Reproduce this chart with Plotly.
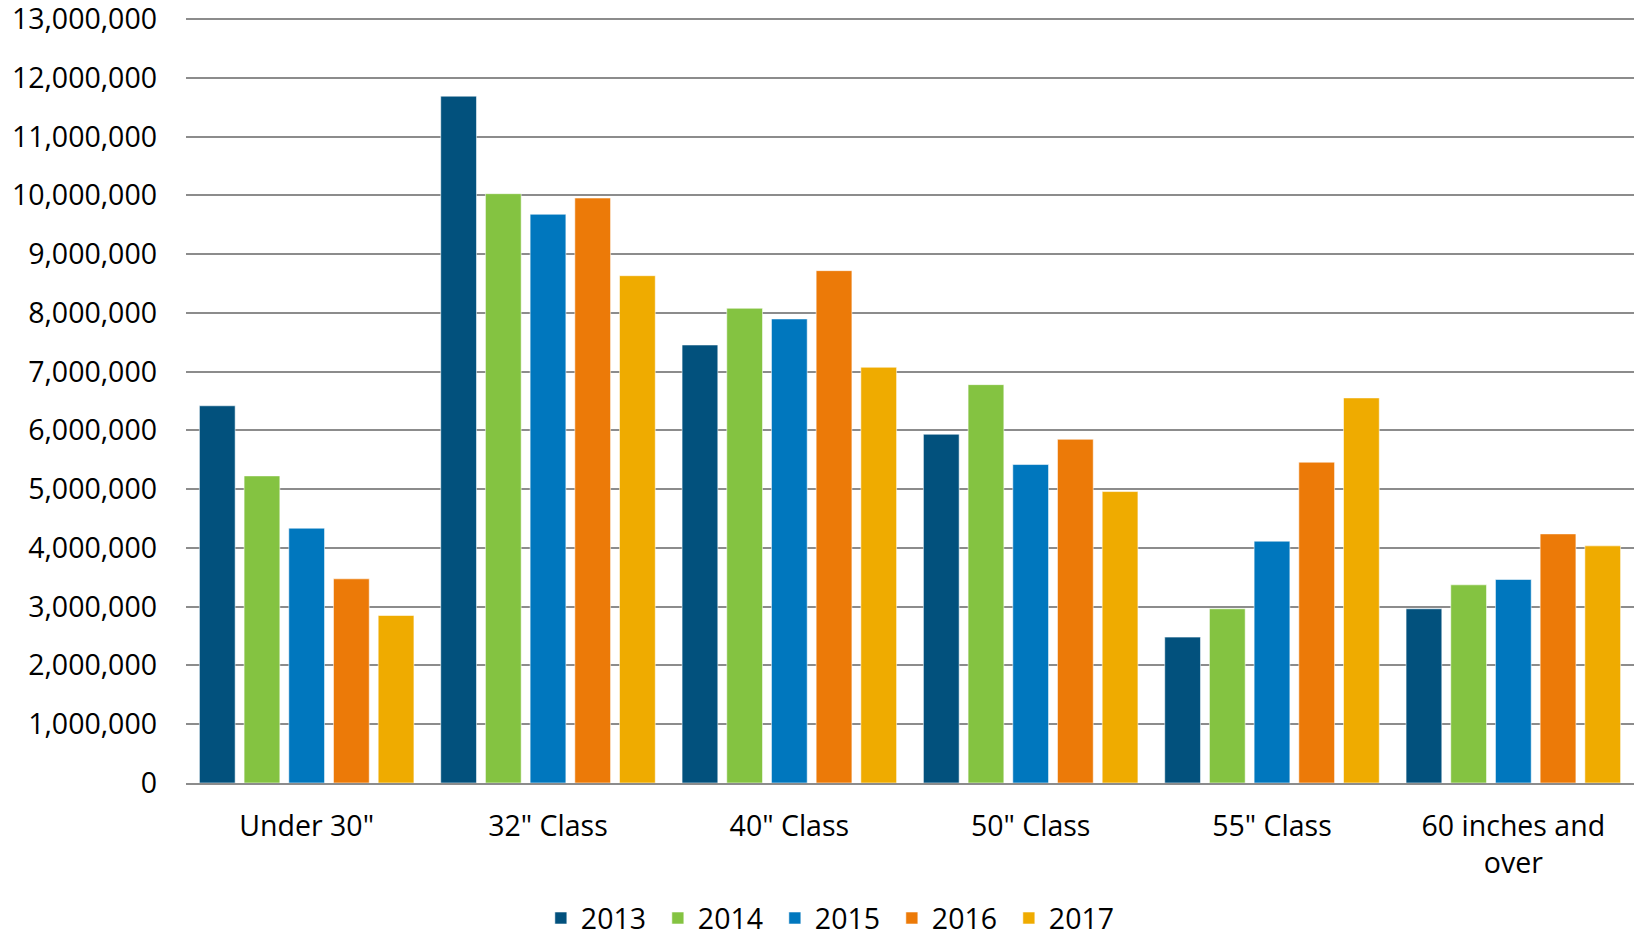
import plotly.graph_objects as go

# Unit shipments by screen-size class, 2013-2017
categories = ['Under 30"', '32" Class', '40" Class', '50" Class', '55" Class', "60 inches and<br>over"]
years = ["2013", "2014", "2015", "2016", "2017"]

units_2013 = [6420000, 11690000, 7455000, 5936000, 2483000, 2965000]
units_2014 = [5227000, 10030000, 8080000, 6780000, 2965000, 3373000]
units_2015 = [4337000, 9680000, 7898000, 5420000, 4116000, 3464000]
units_2016 = [3475000, 9956000, 8720000, 5850000, 5460000, 4240000]
units_2017 = [2851000, 8634000, 7076000, 4960000, 6554000, 4036000]

series = [units_2013, units_2014, units_2015, units_2016, units_2017]
colors = ["#02517D", "#84C341", "#0077BE", "#EC7A08", "#EFAB00"]

tick_vals = list(range(0, 13000001, 1000000))
tick_text = [f"{v:,}" for v in tick_vals]

font_family = "Open Sans, Noto Sans, sans-serif"
font_size = 28.5

fig = go.Figure()
for year, values, color in zip(years, series, colors):
    fig.add_trace(go.Bar(
        name=year,
        x=categories,
        y=values,
        marker=dict(color=color, line=dict(color="rgba(255,255,255,0.55)", width=1)),
    ))

fig.update_layout(
    width=1634,
    height=939,
    barmode="group",
    bargap=0.074,
    bargroupgap=0.2,
    plot_bgcolor="white",
    paper_bgcolor="white",
    margin=dict(l=186, r=0, t=18, b=156),
    font=dict(family=font_family, size=font_size, color="#000000"),
    legend=dict(
        orientation="h",
        xref="container",
        yref="container",
        x=0.331,
        xanchor="left",
        y=0.049,
        yanchor="top",
        font=dict(size=font_size),
        traceorder="normal",
        entrywidth=72,
    ),
    showlegend=True,
)

fig.update_xaxes(
    type="category",
    showgrid=False,
    showline=True,
    linecolor="#8C8C8C",
    linewidth=2,
    ticks="",
    ticklabelstandoff=17,
    tickfont=dict(size=font_size),
)

fig.update_yaxes(
    range=[0, 13020000],
    tickvals=tick_vals,
    ticktext=tick_text,
    showgrid=True,
    gridcolor="#8C8C8C",
    gridwidth=1.6,
    zeroline=False,
    showline=False,
    ticks="",
    ticklabelstandoff=28,
    ticklabeloverflow="allow",
    tickfont=dict(size=font_size),
)

fig.write_html("out.html")
